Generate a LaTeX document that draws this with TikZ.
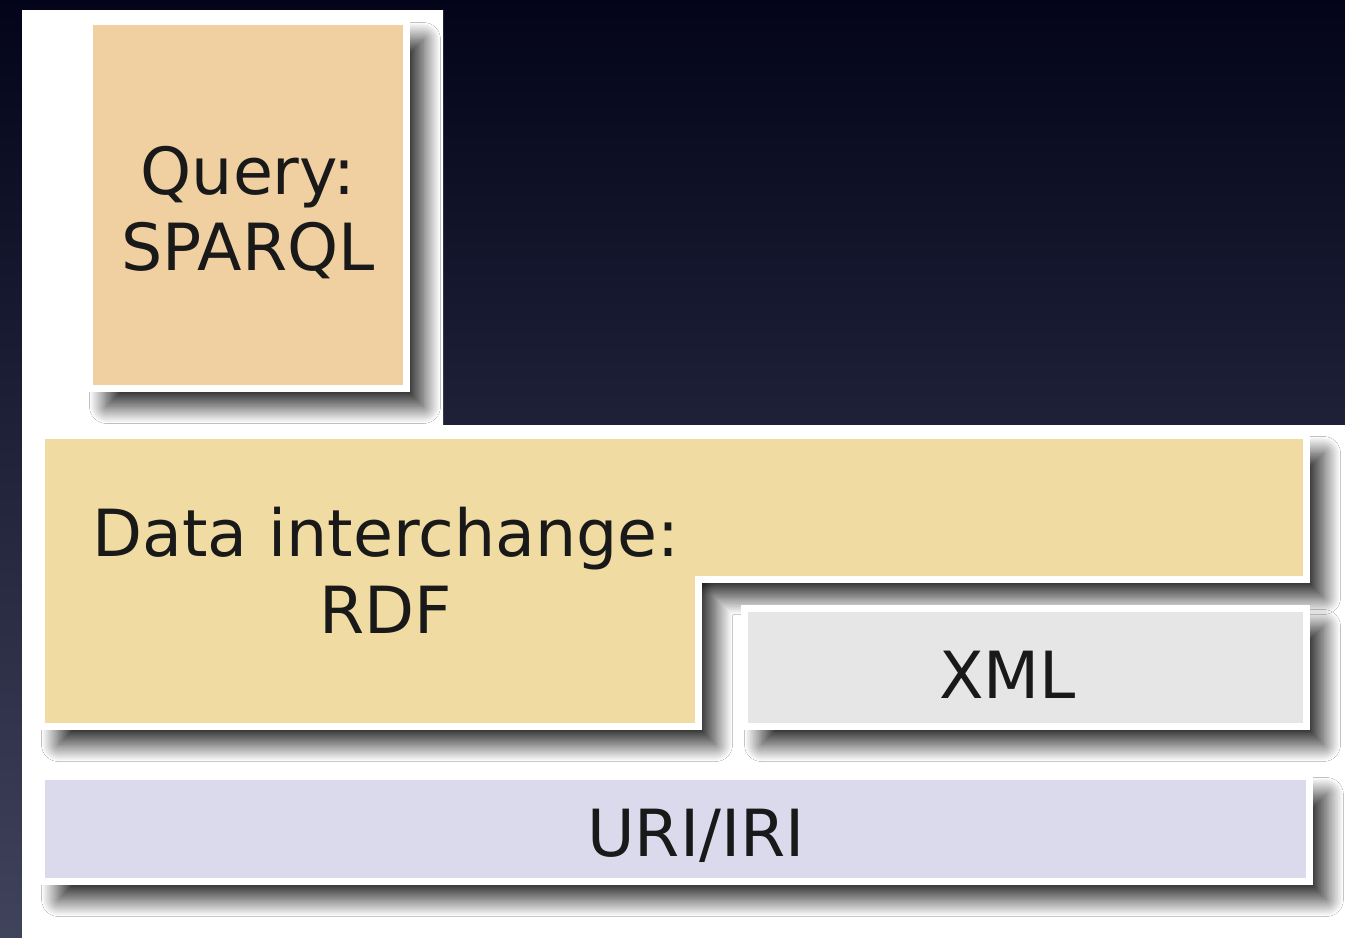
\documentclass[tikz,border=0pt]{standalone}
\usepackage{fontspec}
\setmainfont{DejaVu Sans}
\usetikzlibrary{positioning,calc,shadows.blur}
\definecolor{bgtop}{HTML}{03041A}
\definecolor{bgbot}{HTML}{40435C}
\definecolor{querycol}{HTML}{F0CFA1}
\definecolor{datacol}{HTML}{F0DCA2}
\definecolor{xmlcol}{HTML}{E6E6E6}
\definecolor{uricol}{HTML}{DADAEC}

\begin{document}
\begin{tikzpicture}[x=0.02cm,y=-0.02cm,
  box/.style={draw=white,line width=0.14cm,inner sep=0pt,outer sep=0pt,
    blur shadow={shadow xshift=0.34cm,shadow yshift=-0.36cm,
      shadow blur radius=0.34cm,shadow blur steps=40,shadow opacity=85}},
  txt/.style={font=\fontsize{37}{43.5}\selectfont,align=center,
    inner sep=0pt,text=black!90}]
\useasboundingbox (0,0) rectangle (1345,937);
\fill[top color=bgtop,bottom color=bgbot] (-5,-5) rectangle (1350,942);
%\draw[help lines,dashed] (0,0) grid[step=1cm] (1345,937);
\fill[white] (22,10) -| (443,425) -| (1350,942) -| cycle;

\node[box,fill=querycol,minimum width=6.34cm,minimum height=7.34cm] (query)
  at (248,205) {};
\draw[box,fill=datacol,line join=miter] (41.5,435.5) -- (1306.5,435.5)
  -- (1306.5,579.5) -- (698.5,579.5) -- (698.5,726.5) -- (41.5,726.5) -- cycle;
\node[box,fill=xmlcol,minimum width=11.24cm,minimum height=2.36cm] (xml)
  at (1025.5,667.5) {};
\node[box,fill=uricol,minimum width=25.36cm,minimum height=2.1cm] (uri)
  at (675.5,829) {};

\node[txt] (querytxt) at (248,212.5) {Query:\\SPARQL};
\node[txt] (rdftxt) at (386,570.5) {Data interchange:\\RDF};
\node[txt,anchor=base] (xmltxt) at (1007.5,698) {XML};
\node[txt,anchor=base] (uritxt) at (696,856) {URI/IRI};
\end{tikzpicture}
\end{document}
